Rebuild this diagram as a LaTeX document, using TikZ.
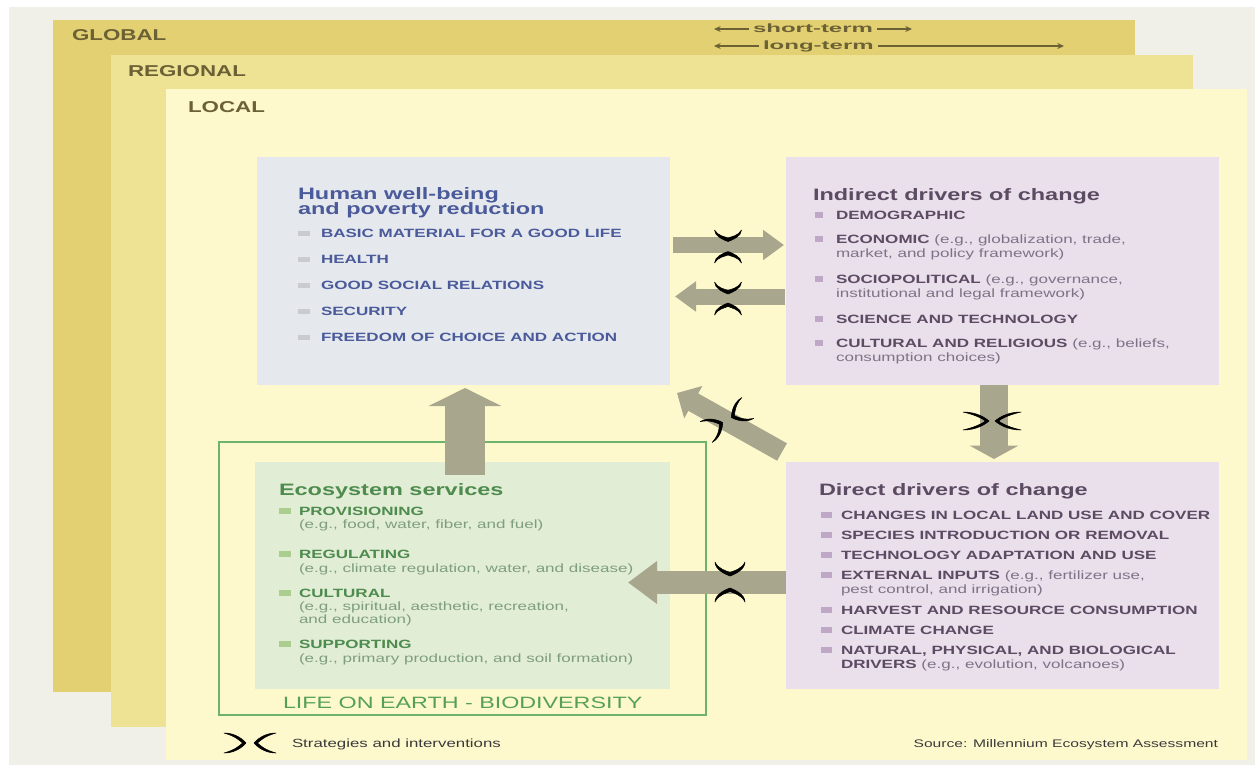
\documentclass[tikz,border=0pt]{standalone}
\usepackage{fontspec}
\setmainfont[FakeStretch=1.42]{Liberation Sans}
\newfontfamily\tagfont[FakeStretch=2.0]{Liberation Sans}
\usetikzlibrary{arrows.meta,calc,fit}

% palette
\definecolor{bgc}{HTML}{F1F0E8}
\definecolor{globalc}{HTML}{E2D072}
\definecolor{regionalc}{HTML}{EEE395}
\definecolor{localc}{HTML}{FDF9CD}
\definecolor{lblc}{HTML}{6C6134}
\definecolor{humanc}{HTML}{E5E9EE}
\definecolor{hblue}{HTML}{4A5A9A}
\definecolor{hbul}{HTML}{C9CBD0}
\definecolor{drvc}{HTML}{EAE0EC}
\definecolor{purp}{HTML}{5C4B63}
\definecolor{purpl}{HTML}{7E7386}
\definecolor{pbul}{HTML}{BEA8C6}
\definecolor{ecoc}{HTML}{E2EDD6}
\definecolor{egreen}{HTML}{4E8B4E}
\definecolor{egreenl}{HTML}{7E9E7E}
\definecolor{ebul}{HTML}{ABCD8E}
\definecolor{lifec}{HTML}{55A055}
\definecolor{framec}{HTML}{6CB46C}
\definecolor{arrowc}{HTML}{A9A68E}
\definecolor{footc}{HTML}{3A3A3A}

\tikzset{
  every node/.style={inner sep=0pt, outer sep=0pt},
  layer/.style={rectangle, inner sep=0pt, draw=none},
  panel/.style={rectangle, inner sep=0pt, draw=none},
  lbl/.style={anchor=base west, font=\fontsize{11.8pt}{14pt}\selectfont\bfseries, text=lblc},
  ttl/.style={anchor=base west, font=\fontsize{12.4pt}{14pt}\selectfont\bfseries},
  itm/.style={anchor=base west, font=\fontsize{9pt}{10.5pt}\selectfont},
  tag/.style={font=\tagfont\fontsize{9pt}{10pt}\selectfont\bfseries, text=lblc, inner xsep=3pt},
  tagarr/.style={draw=lblc, line width=0.9pt, -{Stealth[length=5pt, width=4.5pt]}},
  harrow/.style={draw=arrowc, line width=12pt, -{Triangle[length=15.75pt, width=21.75pt]}},
  warrow/.style={draw=arrowc, line width=17.25pt, -{Triangle[length=21.75pt, width=30.75pt]}},
  varrow/.style={draw=arrowc, line width=21pt, -{Triangle[length=10pt, width=36pt]}},
  uarrow/.style={draw=arrowc, line width=30pt, -{Triangle[length=13.5pt, width=54pt]}},
  darrow/.style={draw=arrowc, line width=15pt, -{Triangle[length=14pt, width=27pt]}},
  stratpen/.style={fill=black, draw=black, line width=0.4pt, line join=round},
  % a pair of brush-stroke brackets pointing at each other:
  % #1 outer reach, #2 tip offset from the centre, #3 half height
  pics/strat/.style n args={3}{code={
    \foreach \s in {-1,1}{
      \path[stratpen]
        ({\s*#1},{-#3}) .. controls ({\s*(#1-0.55*(#1-#2))},{-#3}) and ({\s*(#2+0.12*(#1-#2))},{-0.3*#3}) .. ({\s*#2},0)
        .. controls ({\s*(#2+0.12*(#1-#2))},{0.3*#3}) and ({\s*(#1-0.55*(#1-#2))},{#3}) .. ({\s*#1},{#3})
        .. controls ({\s*(#1-0.5*(#1-#2))},{#3-3}) and ({\s*(#2+3.5+0.12*(#1-#2))},{0.25*#3}) .. ({\s*(#2+3.5)},0)
        .. controls ({\s*(#2+3.5+0.12*(#1-#2))},{-0.25*#3}) and ({\s*(#1-0.5*(#1-#2))},{-#3+3}) .. cycle;
    }
  }}
}

\begin{document}
\begin{tikzpicture}[x=0.75pt, y=-0.75pt]
\useasboundingbox (0,0) rectangle (1255,767);
\fill[white] (0,0) rectangle (1255,767);
\fill[bgc] (9,7) rectangle (1255,765);

% nested scales
\node[layer, fill=globalc, fit={(53,20) (1135,692)}] (global) {};
\node[layer, fill=regionalc, fit={(111,55) (1193,727)}] (regional) {};
\node[layer, fill=localc, fit={(166,89) (1247,760)}] (local) {};
\node[lbl] (globaltxt) at (72,41) {GLOBAL};
\node[lbl] (regionaltxt) at (128,76) {REGIONAL};
\node[lbl] (localtxt) at (188,112) {LOCAL};

% time horizons
\node[tag, anchor=base west] (st) at (749,33) {short-term};
\node[tag, anchor=base west] (lt) at (759,50) {long-term};
\coordinate (stl) at (714,29);
\coordinate (str) at (912,29);
\coordinate (ltl) at (714,46);
\coordinate (ltr) at (1064,46);
\draw[tagarr] (st.west |- stl) -- (stl);
\draw[tagarr] (st.east |- str) -- (str);
\draw[tagarr] (lt.west |- ltl) -- (ltl);
\draw[tagarr] (lt.east |- ltr) -- (ltr);

% panels
\node[panel, fill=humanc, fit={(257,157) (670,385)}] (human) {};
\node[panel, fill=drvc, fit={(786,157) (1219,385)}] (indirect) {};
\node[panel, fill=drvc, fit={(786,462) (1219,689)}] (direct) {};
\node[panel, draw=framec, line width=1.5pt, fit={(219,442) (706,715)}] (life) {};
\node[panel, fill=ecoc, fit={(255,462) (670,689)}] (eco) {};

% human well-being
\node[ttl, text=hblue] (ht1) at (298,199) {Human well-being};
\node[ttl, text=hblue] (ht2) at (298,214) {and poverty reduction};
\foreach \t/\y [count=\i] in {BASIC MATERIAL FOR A GOOD LIFE/237, HEALTH/263, GOOD SOCIAL RELATIONS/289, SECURITY/315, FREEDOM OF CHOICE AND ACTION/341}{
  \fill[hbul] (298,\y-6) rectangle (310,\y-1);
  \node[itm, text=hblue, font=\fontsize{9pt}{10.5pt}\selectfont\bfseries] (hw\i) at (321,\y) {\t};
}

% indirect drivers
\node[ttl, text=purp] (idt) at (813,200) {Indirect drivers of change};
\foreach \y in {219,243,283,323,347}{\fill[pbul] (815,\y-7) rectangle (823,\y-1);}
\node[itm, text=purp] (id1) at (836,219) {\bfseries DEMOGRAPHIC};
\node[itm, text=purp] (id2) at (836,243) {\textbf{ECONOMIC} \textcolor{purpl}{(e.g., globalization, trade,}};
\node[itm, text=purpl] (id2b) at (836,257) {market, and policy framework)};
\node[itm, text=purp] (id3) at (836,283) {\textbf{SOCIOPOLITICAL} \textcolor{purpl}{(e.g., governance,}};
\node[itm, text=purpl] (id3b) at (836,297) {institutional and legal framework)};
\node[itm, text=purp] (id4) at (836,323) {\bfseries SCIENCE AND TECHNOLOGY};
\node[itm, text=purp] (id5) at (836,347) {\textbf{CULTURAL AND RELIGIOUS} \textcolor{purpl}{(e.g., beliefs,}};
\node[itm, text=purpl] (id5b) at (836,361) {consumption choices)};

% direct drivers
\node[ttl, text=purp] (ddt) at (819,495) {Direct drivers of change};
\foreach \y in {519,539,559,579,614,634,654}{\fill[pbul] (821,\y-7) rectangle (832,\y-1);}
\node[itm, text=purp] (dd1) at (841,519) {\bfseries CHANGES IN LOCAL LAND USE AND COVER};
\node[itm, text=purp] (dd2) at (841,539) {\bfseries SPECIES INTRODUCTION OR REMOVAL};
\node[itm, text=purp] (dd3) at (841,559) {\bfseries TECHNOLOGY ADAPTATION AND USE};
\node[itm, text=purp] (dd4) at (841,579) {\textbf{EXTERNAL INPUTS} \textcolor{purpl}{(e.g., fertilizer use,}};
\node[itm, text=purpl] (dd4b) at (841,593) {pest control, and irrigation)};
\node[itm, text=purp] (dd5) at (841,614) {\bfseries HARVEST AND RESOURCE CONSUMPTION};
\node[itm, text=purp] (dd6) at (841,634) {\bfseries CLIMATE CHANGE};
\node[itm, text=purp] (dd7) at (841,654) {\bfseries NATURAL, PHYSICAL, AND BIOLOGICAL};
\node[itm, text=purp] (dd7b) at (841,668) {\textbf{DRIVERS} \textcolor{purpl}{(e.g., evolution, volcanoes)}};

% ecosystem services
\node[ttl, text=egreen] (est) at (279,495) {Ecosystem services};
\foreach \y in {515,558,597,648}{\fill[ebul] (279,\y-7) rectangle (291,\y-1);}
\node[itm, text=egreen] (es1) at (299,515) {\bfseries PROVISIONING};
\node[itm, text=egreenl] (es1b) at (299,528) {(e.g., food, water, fiber, and fuel)};
\node[itm, text=egreen] (es2) at (299,558) {\bfseries REGULATING};
\node[itm, text=egreenl] (es2b) at (299,572) {(e.g., climate regulation, water, and disease)};
\node[itm, text=egreen] (es3) at (299,597) {\bfseries CULTURAL};
\node[itm, text=egreenl] (es3b) at (299,610) {(e.g., spiritual, aesthetic, recreation,};
\node[itm, text=egreenl] (es3c) at (299,623) {and education)};
\node[itm, text=egreen] (es4) at (299,648) {\bfseries SUPPORTING};
\node[itm, text=egreenl] (es4b) at (299,662) {(e.g., primary production, and soil formation)};
\node[anchor=base west, font=\fontsize{12.3pt}{14pt}\selectfont, text=lifec] (lifetxt) at (283,708) {LIFE ON EARTH - BIODIVERSITY};

% connectors
\coordinate (a1) at (0,245);
\coordinate (a2) at (0,296.5);
\coordinate (a3) at (994,0);
\coordinate (a5) at (465,475);
\coordinate (a6) at (628,582.5);
\coordinate (a4s) at (782,452);
\coordinate (a4e) at (677,393);
\draw[harrow, shorten <=2.25pt, shorten >=1.5pt] (human.east |- a1) -- (indirect.west |- a1);
\draw[harrow, shorten <=1pt, shorten >=3.75pt] (indirect.west |- a2) -- (human.east |- a2);
\draw[varrow, shorten >=2.25pt] (indirect.south -| a3) -- (direct.north -| a3);
\draw[uarrow, shorten >=2.25pt] (a5) -- (human.south -| a5);
\draw[warrow] (direct.west |- a6) -- (a6);
\draw[darrow] (a4s) -- (a4e);

% strategies and interventions
\pic[rotate=90] at (728,246.5) {strat={16.5}{5}{13.5}};
\pic[rotate=90] at (728,298.5) {strat={16.5}{4.5}{13.5}};
\pic at (992,421) {strat={29}{3}{9}};
\pic[rotate=90] at (730,582) {strat={20}{6}{15}};
\pic[rotate=30] at (727,420) {strat={24}{5}{12}};

% footer
\pic at (250,743) {strat={26}{4}{10}};
\node[anchor=base west, font=\fontsize{8.9pt}{10pt}\selectfont, text=footc] (legend) at (292,747) {Strategies and interventions};
\node[anchor=base east, font=\fontsize{8.25pt}{10pt}\selectfont, text=footc] (source) at (1218,747) {Source: Millennium Ecosystem Assessment};
\end{tikzpicture}
\end{document}
